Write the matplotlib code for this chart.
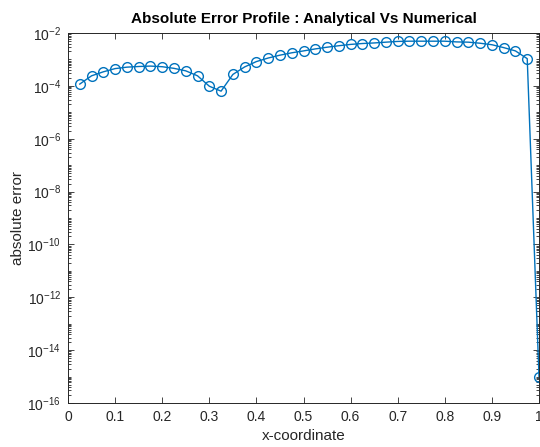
import numpy as np
import matplotlib
matplotlib.use("Agg")
import matplotlib.pyplot as plt
from matplotlib.ticker import LogLocator, FixedLocator, NullFormatter

plt.rcParams['font.family'] = ['Liberation Sans', 'DejaVu Sans']
plt.rcParams['mathtext.fontset'] = 'custom'
plt.rcParams['mathtext.rm'] = 'Liberation Sans'
plt.rcParams['mathtext.it'] = 'Liberation Sans:italic'
plt.rcParams['mathtext.bf'] = 'Liberation Sans:bold'

x_vals = [0.025, 0.05, 0.075, 0.1, 0.125, 0.15, 0.175, 0.2, 0.225, 0.25,
          0.275, 0.3, 0.325, 0.35, 0.375, 0.4, 0.425, 0.45, 0.475, 0.5,
          0.525, 0.55, 0.575, 0.6, 0.625, 0.65, 0.675, 0.7, 0.725, 0.75,
          0.775, 0.8, 0.825, 0.85, 0.875, 0.9, 0.925, 0.95, 0.975, 1.0]
err_vals = [1.17e-4, 2.4e-4, 3.4e-4, 4.5e-4, 5.1e-4, 5.4e-4, 5.6e-4, 5.3e-4, 4.6e-4, 3.7e-4,
            2.4e-4, 9.7e-5, 6.3e-5, 2.7e-4, 5.2e-4, 8.3e-4, 1.13e-3, 1.45e-3, 1.78e-3, 2.1e-3,
            2.5e-3, 2.9e-3, 3.3e-3, 3.7e-3, 4.0e-3, 4.2e-3, 4.5e-3, 4.8e-3, 4.9e-3, 4.9e-3,
            4.9e-3, 4.9e-3, 4.6e-3, 4.5e-3, 4.1e-3, 3.6e-3, 2.8e-3, 2.1e-3, 1.07e-3, 1.0e-15]
x_ticks = [0, 0.1, 0.2, 0.3, 0.4, 0.5, 0.6, 0.7, 0.8, 0.9, 1]
x_tick_labels = ["0", "0.1", "0.2", "0.3", "0.4", "0.5", "0.6", "0.7", "0.8", "0.9", "1"]
y_exps = [-16, -14, -12, -10, -8, -6, -4, -2]

fig = plt.figure(figsize=(5.4, 4.47), dpi=100)
ax = fig.add_axes([68/540, 1 - 403/447, 471/540, 370/447])

color = '#0072BD'
ax.semilogy(x_vals, err_vals, '-o', color=color, lw=1.0, markersize=7,
            markerfacecolor='none', markeredgecolor=color, markeredgewidth=1.0, clip_on=False)

ax.set_xlim(0, 1)
ax.set_ylim(1e-16, 1e-2)
ax.xaxis.set_major_locator(FixedLocator(x_ticks))
ax.set_xticklabels(x_tick_labels)
ax.yaxis.set_major_locator(FixedLocator([10.0**e for e in y_exps]))
ax.set_yticklabels([r'$\mathregular{10^{%d}}$' % e for e in y_exps])
ax.yaxis.set_minor_locator(LogLocator(base=10, subs=np.arange(1, 10), numticks=100))
ax.yaxis.set_minor_formatter(NullFormatter())

ax.tick_params(which='both', direction='in', top=True, right=True, colors='#262626',
               labelsize=10, width=0.6)
ax.tick_params(which='major', length=4.5, pad=5)
ax.tick_params(which='minor', length=2.2)
for s in ax.spines.values():
    s.set_color('#262626')
    s.set_linewidth(0.7)

ax.set_title('Absolute Error Profile : Analytical Vs Numerical', fontsize=11,
             fontweight='bold', color='black', pad=7)
ax.set_xlabel('x-coordinate', fontsize=11, color='#262626', labelpad=4)
ax.set_ylabel('absolute error', fontsize=11, color='#262626', labelpad=2)

fig.savefig('out.png', dpi=100)
